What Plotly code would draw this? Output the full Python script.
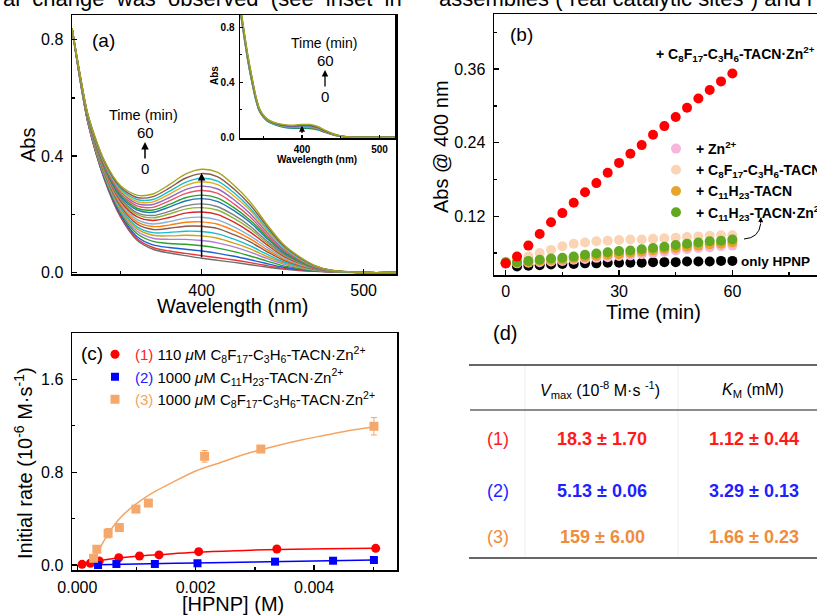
import plotly.graph_objects as go

W, H = 817, 616
FONT = "Arial, 'Liberation Sans', sans-serif"


def px(x):
    return x / W


def py(y):
    return 1 - y / H


# ---------------- Panel (a): spectra, 0-60 min ----------------
wavelength_a = [320, 325, 330, 340, 350, 360, 370, 380, 390, 400, 410, 420, 430, 440, 450, 460, 470, 480, 500, 520]
spectra_a = [
    [0.840, 0.660, 0.510, 0.320, 0.190, 0.112, 0.080, 0.067, 0.058, 0.049, 0.042, 0.035, 0.027, 0.019, 0.012, 0.007, 0.004, 0.002, 0.0, 0.0],
    [0.840, 0.661, 0.511, 0.322, 0.193, 0.117, 0.086, 0.074, 0.066, 0.058, 0.051, 0.043, 0.034, 0.024, 0.015, 0.009, 0.005, 0.002, 0.0, 0.0],
    [0.840, 0.662, 0.512, 0.325, 0.199, 0.124, 0.095, 0.086, 0.080, 0.074, 0.066, 0.056, 0.044, 0.031, 0.019, 0.011, 0.006, 0.003, 0.0, 0.0],
    [0.840, 0.663, 0.514, 0.329, 0.205, 0.134, 0.107, 0.100, 0.097, 0.092, 0.084, 0.072, 0.057, 0.040, 0.024, 0.014, 0.007, 0.003, 0.0, 0.0],
    [0.840, 0.664, 0.516, 0.333, 0.212, 0.143, 0.118, 0.114, 0.114, 0.110, 0.102, 0.088, 0.070, 0.049, 0.030, 0.017, 0.008, 0.003, 0.0, 0.0],
    [0.840, 0.665, 0.518, 0.336, 0.217, 0.151, 0.128, 0.126, 0.128, 0.126, 0.118, 0.101, 0.081, 0.056, 0.034, 0.019, 0.009, 0.004, 0.0, 0.0],
    [0.840, 0.666, 0.519, 0.340, 0.222, 0.158, 0.137, 0.138, 0.142, 0.141, 0.133, 0.115, 0.092, 0.064, 0.038, 0.022, 0.010, 0.004, 0.0, 0.0],
    [0.840, 0.667, 0.521, 0.343, 0.229, 0.167, 0.148, 0.152, 0.159, 0.159, 0.151, 0.130, 0.105, 0.073, 0.044, 0.025, 0.011, 0.004, 0.0, 0.0],
    [0.840, 0.668, 0.522, 0.347, 0.234, 0.175, 0.158, 0.163, 0.173, 0.174, 0.166, 0.144, 0.116, 0.080, 0.048, 0.027, 0.012, 0.005, 0.0, 0.0],
    [0.840, 0.669, 0.524, 0.350, 0.240, 0.183, 0.167, 0.175, 0.187, 0.190, 0.181, 0.157, 0.126, 0.088, 0.053, 0.030, 0.013, 0.005, 0.0, 0.0],
    [0.840, 0.670, 0.526, 0.354, 0.246, 0.192, 0.179, 0.189, 0.204, 0.208, 0.199, 0.173, 0.139, 0.097, 0.058, 0.033, 0.014, 0.005, 0.0, 0.0],
    [0.840, 0.671, 0.527, 0.357, 0.252, 0.200, 0.188, 0.201, 0.218, 0.223, 0.214, 0.186, 0.150, 0.104, 0.062, 0.035, 0.015, 0.005, 0.0, 0.0],
    [0.840, 0.672, 0.528, 0.360, 0.256, 0.206, 0.196, 0.210, 0.229, 0.236, 0.226, 0.197, 0.159, 0.110, 0.066, 0.037, 0.016, 0.006, 0.0, 0.0],
    [0.840, 0.673, 0.530, 0.364, 0.262, 0.215, 0.207, 0.225, 0.246, 0.254, 0.244, 0.213, 0.172, 0.119, 0.071, 0.040, 0.017, 0.006, 0.0, 0.0],
    [0.840, 0.674, 0.531, 0.366, 0.267, 0.221, 0.215, 0.234, 0.257, 0.266, 0.256, 0.223, 0.180, 0.125, 0.075, 0.042, 0.018, 0.006, 0.0, 0.0],
    [0.840, 0.675, 0.533, 0.369, 0.272, 0.229, 0.224, 0.246, 0.271, 0.282, 0.272, 0.236, 0.191, 0.132, 0.079, 0.044, 0.019, 0.007, 0.0, 0.0],
    [0.840, 0.676, 0.534, 0.373, 0.278, 0.237, 0.234, 0.257, 0.285, 0.297, 0.287, 0.250, 0.202, 0.140, 0.083, 0.047, 0.020, 0.007, 0.0, 0.0],
    [0.840, 0.677, 0.536, 0.376, 0.283, 0.244, 0.243, 0.269, 0.299, 0.312, 0.302, 0.263, 0.213, 0.147, 0.088, 0.049, 0.021, 0.007, 0.0, 0.0],
    [0.840, 0.678, 0.537, 0.379, 0.287, 0.251, 0.251, 0.279, 0.310, 0.324, 0.314, 0.274, 0.221, 0.153, 0.091, 0.051, 0.022, 0.007, 0.0, 0.0],
    [0.840, 0.679, 0.539, 0.382, 0.293, 0.258, 0.261, 0.290, 0.324, 0.340, 0.329, 0.287, 0.232, 0.161, 0.096, 0.054, 0.023, 0.008, 0.0, 0.0],
    [0.840, 0.680, 0.540, 0.385, 0.298, 0.266, 0.270, 0.302, 0.338, 0.355, 0.344, 0.300, 0.243, 0.168, 0.100, 0.056, 0.024, 0.008, 0.0, 0.0],
]
colors_a = ["#6e6e6e", "#e8383d", "#1f5fd6", "#2ca02c", "#b07cd8", "#d4a017", "#17becf", "#8c564b",
            "#ff7f0e", "#7fb3d5", "#d62728", "#8cb43c", "#7f7f7f", "#1f77b4", "#2ca02c", "#e3566c",
            "#9467bd", "#e0b020", "#17becf", "#8c564b", "#a5a51f"]

# ---------------- Inset of (a) ----------------
wavelength_in = [320, 325, 330, 335, 340, 345, 350, 355, 360, 370, 380, 390, 400, 410, 420, 430, 440, 450, 460, 480, 520]
spectra_in = [
    [0.930, 0.740, 0.560, 0.410, 0.280, 0.190, 0.148, 0.120, 0.103, 0.082, 0.070, 0.066, 0.066, 0.064, 0.055, 0.036, 0.018, 0.006, 0.001, 0.0, 0.0],
    [0.937, 0.747, 0.567, 0.417, 0.285, 0.193, 0.150, 0.122, 0.105, 0.085, 0.073, 0.070, 0.070, 0.069, 0.059, 0.038, 0.019, 0.007, 0.001, 0.0, 0.0],
    [0.943, 0.753, 0.573, 0.423, 0.290, 0.197, 0.153, 0.125, 0.108, 0.087, 0.076, 0.073, 0.075, 0.073, 0.062, 0.041, 0.021, 0.007, 0.002, 0.0, 0.0],
    [0.950, 0.760, 0.580, 0.430, 0.295, 0.200, 0.155, 0.127, 0.110, 0.090, 0.080, 0.077, 0.080, 0.079, 0.067, 0.043, 0.022, 0.008, 0.002, 0.0, 0.0],
    [0.957, 0.767, 0.587, 0.437, 0.300, 0.203, 0.157, 0.129, 0.112, 0.093, 0.083, 0.081, 0.084, 0.084, 0.071, 0.045, 0.023, 0.009, 0.002, 0.0, 0.0],
    [0.963, 0.773, 0.593, 0.443, 0.305, 0.207, 0.160, 0.132, 0.115, 0.095, 0.086, 0.084, 0.089, 0.088, 0.075, 0.048, 0.025, 0.009, 0.003, 0.0, 0.0],
    [0.970, 0.780, 0.600, 0.450, 0.310, 0.210, 0.162, 0.134, 0.117, 0.098, 0.089, 0.088, 0.093, 0.093, 0.079, 0.050, 0.026, 0.010, 0.003, 0.0, 0.0],
]
colors_in = ["#1f77b4", "#2ca02c", "#ff7f0e", "#17becf", "#9467bd", "#555555", "#a5a51f"]

# ---------------- Panel (b): Abs @ 400 nm vs time ----------------
time_b = [0, 3, 6, 9, 12, 15, 18, 21, 24, 27, 30, 33, 36, 39, 42, 45, 48, 51, 54, 57, 60]
abs_hpnp_only = [0.043, 0.038, 0.039, 0.040, 0.041, 0.042, 0.042, 0.043, 0.043, 0.044, 0.044, 0.044, 0.044, 0.045, 0.045, 0.045, 0.046, 0.046, 0.046, 0.047, 0.047]
abs_zn = [0.043, 0.043, 0.044, 0.045, 0.046, 0.047, 0.049, 0.050, 0.052, 0.053, 0.055, 0.056, 0.058, 0.060, 0.062, 0.064, 0.066, 0.068, 0.069, 0.071, 0.072]
abs_c8_tacn = [0.045, 0.051, 0.054, 0.060, 0.065, 0.071, 0.075, 0.077, 0.079, 0.080, 0.081, 0.082, 0.082, 0.083, 0.084, 0.085, 0.086, 0.087, 0.088, 0.089, 0.089]
abs_c11_tacn = [0.044, 0.044, 0.045, 0.047, 0.048, 0.049, 0.051, 0.053, 0.055, 0.057, 0.058, 0.060, 0.062, 0.064, 0.066, 0.068, 0.070, 0.072, 0.074, 0.075, 0.077]
abs_c11_tacn_zn = [0.045, 0.045, 0.047, 0.049, 0.051, 0.052, 0.054, 0.057, 0.059, 0.061, 0.063, 0.064, 0.066, 0.068, 0.070, 0.073, 0.075, 0.077, 0.079, 0.080, 0.082]
abs_c8_tacn_zn = [0.043, 0.054, 0.072, 0.091, 0.110, 0.125, 0.142, 0.159, 0.174, 0.191, 0.207, 0.222, 0.236, 0.253, 0.267, 0.282, 0.297, 0.312, 0.326, 0.340, 0.353]

# ---------------- Panel (c): initial rate vs [HPNP] ----------------
hpnp_1 = [0.00008, 0.00022, 0.00037, 0.00070, 0.00105, 0.00138, 0.00205, 0.00337, 0.00504]
rate_1 = [0.006, 0.015, 0.035, 0.063, 0.078, 0.087, 0.115, 0.138, 0.144]
hpnp_2 = [0.00035, 0.00066, 0.00131, 0.00203, 0.00334, 0.00432, 0.00501]
rate_2 = [0.000, 0.009, 0.009, 0.015, 0.029, 0.037, 0.043]
hpnp_3 = [0.000275, 0.00033, 0.00052, 0.00071, 0.00099, 0.00120, 0.00215, 0.00310, 0.00501]
rate_3 = [0.058, 0.136, 0.274, 0.323, 0.482, 0.534, 0.937, 1.000, 1.196]
err_3 = [0.02, 0.03, 0.04, 0.03, 0.03, 0.02, 0.05, 0.02, 0.075]

fit_x_1 = [0.0001, 0.0002, 0.0003, 0.0005, 0.0007, 0.001, 0.0014, 0.002, 0.0027, 0.0034, 0.0042, 0.005]
fit_y_1 = [0.008, 0.020, 0.030, 0.047, 0.060, 0.076, 0.090, 0.110, 0.124, 0.134, 0.140, 0.145]
fit_x_2 = [0.00035, 0.001, 0.002, 0.003, 0.004, 0.005]
fit_y_2 = [0.003, 0.009, 0.017, 0.026, 0.035, 0.043]
fit_x_3 = [0.00025, 0.00033, 0.00044, 0.00056, 0.00073, 0.001, 0.0013, 0.0016, 0.002, 0.0024, 0.0028, 0.0033, 0.0038, 0.0042, 0.0046, 0.005]
fit_y_3 = [0.015, 0.10, 0.20, 0.30, 0.41, 0.53, 0.63, 0.71, 0.81, 0.88, 0.95, 1.02, 1.08, 1.12, 1.16, 1.19]

# ---------------- Panel (d): table ----------------
row_labels = ["(1)", "(2)", "(3)"]
vmax_text = ["18.3 ± 1.70", "5.13 ± 0.06", "159 ± 6.00"]
km_text = ["1.12 ± 0.44", "3.29 ± 0.13", "1.66 ± 0.23"]
row_colors = ["#ff1a1a", "#1f1fff", "#f08c3c"]

# ============================================================
fig = go.Figure()

for ys, c in zip(spectra_a, colors_a):
    fig.add_trace(go.Scatter(x=wavelength_a, y=ys, mode="lines", xaxis="x", yaxis="y",
                             line=dict(color=c, width=1.4, shape="spline", smoothing=0.8),
                             showlegend=False, hoverinfo="skip"))

for ys, c in zip(spectra_in, colors_in):
    fig.add_trace(go.Scatter(x=wavelength_in, y=ys, mode="lines", xaxis="x2", yaxis="y2",
                             line=dict(color=c, width=1.5, shape="spline", smoothing=0.8),
                             showlegend=False, hoverinfo="skip"))

b_series = [
    (abs_hpnp_only, "#000000", "only HPNP", False),
    (abs_zn, "#f7b7dc", "<b>+ Zn<sup>2+</sup></b>", True),
    (abs_c8_tacn, "#fad4b4", "<b>+ C<sub>8</sub>F<sub>17</sub>-C<sub>3</sub>H<sub>6</sub>-TACN</b>", True),
    (abs_c11_tacn, "#e6a52c", "<b>+ C<sub>11</sub>H<sub>23</sub>-TACN</b>", True),
    (abs_c11_tacn_zn, "#62a820", "<b>+ C<sub>11</sub>H<sub>23</sub>-TACN·Zn<sup>2+</sup></b>", True),
    (abs_c8_tacn_zn, "#ff0000", "C8F17-C3H6-TACN·Zn2+", False),
]
for ys, c, name, leg in b_series:
    fig.add_trace(go.Scatter(x=time_b, y=ys, mode="markers", xaxis="x3", yaxis="y3",
                             marker=dict(color=c, size=10, line=dict(width=0)),
                             name=name, showlegend=leg, legend="legend"))

# panel (c) fits
fig.add_trace(go.Scatter(x=fit_x_1, y=fit_y_1, mode="lines", xaxis="x4", yaxis="y4",
                         line=dict(color="#ff0000", width=1.5, shape="spline"), showlegend=False))
fig.add_trace(go.Scatter(x=fit_x_2, y=fit_y_2, mode="lines", xaxis="x4", yaxis="y4",
                         line=dict(color="#0000ff", width=1.5, shape="spline"), showlegend=False))
fig.add_trace(go.Scatter(x=fit_x_3, y=fit_y_3, mode="lines", xaxis="x4", yaxis="y4",
                         line=dict(color="#f5a462", width=1.5, shape="spline"), showlegend=False))
# panel (c) data
fig.add_trace(go.Scatter(x=hpnp_1, y=rate_1, mode="markers", xaxis="x4", yaxis="y4",
                         marker=dict(color="#ff0000", size=9, symbol="circle"), legend="legend2",
                         name="<span style='color:#ff2020'>(1)</span> 110 <i>μ</i>M C<sub>8</sub>F<sub>17</sub>-C<sub>3</sub>H<sub>6</sub>-TACN·Zn<sup>2+</sup>"))
fig.add_trace(go.Scatter(x=hpnp_2, y=rate_2, mode="markers", xaxis="x4", yaxis="y4",
                         marker=dict(color="#0000ff", size=8, symbol="square"), legend="legend2",
                         name="<span style='color:#2020ff'>(2)</span> 1000 <i>μ</i>M C<sub>11</sub>H<sub>23</sub>-TACN·Zn<sup>2+</sup>"))
fig.add_trace(go.Scatter(x=hpnp_3, y=rate_3, mode="markers", xaxis="x4", yaxis="y4",
                         error_y=dict(type="data", array=err_3, color="#f5a462", thickness=1, width=3),
                         marker=dict(color="#f5a86b", size=9, symbol="square"), legend="legend2",
                         name="<span style='color:#f5a462'>(3)</span> 1000 <i>μ</i>M C<sub>8</sub>F<sub>17</sub>-C<sub>3</sub>H<sub>6</sub>-TACN·Zn<sup>2+</sup>"))


def axis(domain, rng, anchor, dtick, minor_dtick, fmt=None, size=16, bold=False, ticklen=5, mirror=True, standoff=4):
    d = dict(domain=domain, range=rng, anchor=anchor, showline=True, linecolor="black", linewidth=1.5,
             mirror=mirror, ticks="inside", ticklen=ticklen, tickwidth=1.3, tickcolor="black",
             showgrid=False, zeroline=False, tickmode="linear", tick0=0, dtick=dtick, automargin=False,
             tickfont=dict(family=FONT, size=size, color="black", weight="bold" if bold else "normal"),
             minor=dict(ticks="inside", ticklen=max(2, ticklen - 2), tickwidth=1.2, tickcolor="black",
                        dtick=minor_dtick, tick0=0, showgrid=False),
             ticklabelstandoff=standoff)
    if fmt:
        d["tickformat"] = fmt
    return d


fig.update_layout(
    width=W, height=H, margin=dict(l=0, r=0, t=0, b=0, pad=0, autoexpand=False),
    paper_bgcolor="white", plot_bgcolor="rgba(0,0,0,0)",
    font=dict(family=FONT, color="black"),
    xaxis=axis([px(72), px(396)], [320, 520], "y", 100, 50, standoff=1),
    yaxis=axis([py(274), py(15)], [-0.005, 0.885], "x", 0.4, 0.2, ".1f"),
    xaxis2=axis([px(240), px(395)], [320, 520], "y2", 100, 50, size=10, bold=True, ticklen=3, standoff=1),
    yaxis2=axis([py(138), py(15)], [-0.005, 0.89], "x2", 0.4, 0.2, ".1f", size=10, bold=True, ticklen=3, standoff=2),
    xaxis3=axis([px(494), 1.0], [-3.1, 82.4], "y3", 30, 15, standoff=1),
    yaxis3=axis([py(275), py(14)], [0.024, 0.45], "x3", 0.12, 0.06, ".2f", mirror=False),
    xaxis4=axis([px(72), px(397)], [-0.00009, 0.0054], "y4", 0.002, 0.001, ".3f", standoff=2),
    yaxis4=axis([py(570), py(333)], [-0.043, 2.0], "x4", 0.8, 0.4, ".1f"),
    legend=dict(x=px(656), y=py(133), xanchor="left", yanchor="top", bgcolor="rgba(0,0,0,0)",
                font=dict(family=FONT, size=14, color="black"), itemsizing="trace", tracegroupgap=0),
    legend2=dict(x=px(95), y=py(338), xanchor="left", yanchor="top", bgcolor="rgba(0,0,0,0)",
                 font=dict(family=FONT, size=15, color="black"), itemsizing="trace", tracegroupgap=0),
)

ann = []


def text(x, y, t, size, bold=False, color="black", angle=0, xanchor="center", yanchor="middle"):
    ann.append(dict(x=px(x), y=py(y), xref="paper", yref="paper", text=t, showarrow=False,
                    textangle=angle, xanchor=xanchor, yanchor=yanchor,
                    font=dict(family=FONT, size=size, color=color, weight="bold" if bold else "normal")))


def arrow_up(x, y_head, length, width=1.5):
    ann.append(dict(x=px(x), y=py(y_head), xref="paper", yref="paper", text="", showarrow=True,
                    ax=0, ay=length, arrowhead=2, arrowsize=1, arrowwidth=width, arrowcolor="black"))


# clipped running text at the very top
text(1, -1, "al&nbsp; change&nbsp; was&nbsp; observed&nbsp; (see&nbsp; inset&nbsp; in", 22, xanchor="left")
text(437, -1, "assemblies (“real catalytic sites”) and i", 22, xanchor="left")

# panel (a)
text(103, 40, "(a)", 19)
text(28, 145, "Abs", 20, angle=-90)
text(233, 306, "Wavelength (nm)", 20)
text(143, 115, "Time (min)", 14.5)
text(145, 132, "60", 15)
arrow_up(145, 142, 18)
text(145, 168, "0", 15)
ann.append(dict(x=400, y=0.342, xref="x", yref="y", ax=400, ay=0.047, axref="x", ayref="y",
                text="", showarrow=True, arrowhead=2, arrowsize=1, arrowwidth=1.5, arrowcolor="black"))
# inset
text(215, 76, "Abs", 10, bold=True, angle=-90)
text(317, 159, "Wavelength (nm)", 10, bold=True)
text(324, 43, "Time (min)", 14)
text(325, 61, "60", 15)
arrow_up(325, 70, 18, width=1.3)
text(325, 96, "0", 15)
ann.append(dict(x=400, y=0.085, xref="x2", yref="y2", ax=400, ay=0.02, axref="x2", ayref="y2",
                text="", showarrow=True, arrowhead=2, arrowsize=1, arrowwidth=1.2, arrowcolor="black"))

# panel (b)
text(521, 35, "(b)", 19)
text(441, 147, "Abs @ 400 nm", 20, angle=-90)
text(653, 312, "Time (min)", 20)
text(735, 54, "+ C<sub>8</sub>F<sub>17</sub>-C<sub>3</sub>H<sub>6</sub>-TACN·Zn<sup>2+</sup>", 14, bold=True)
text(739, 261, "only HPNP", 13.5, bold=True, xanchor="left")
ann.append(dict(x=px(761), y=py(217), xref="paper", yref="paper", text="", showarrow=True,
                ax=-0.5, ay=8, arrowhead=2, arrowsize=1, arrowwidth=1, arrowcolor="black"))

# panel (c)
text(92, 353, "(c)", 19)
text(23, 463, "Initial rate (10<sup>-6</sup> M·s<sup>-1</sup>)", 20, angle=-90)
text(233, 604, "[HPNP] (M)", 20)

# panel (d)
text(505, 333, "(d)", 20)
text(600, 390, "<i>V</i><sub>max</sub> (10<sup>-8</sup> M·s <sup>-1</sup>)", 16)
text(753, 390, "<i>K</i><sub>M</sub> (mM)", 16)
row_y = [439, 491, 537]
for lab, v, k, c, yy in zip(row_labels, vmax_text, km_text, row_colors, row_y):
    text(498, yy, lab, 18, color=c)
    text(602, yy, v, 18, bold=True, color=c)
    text(754, yy, k, 18, bold=True, color=c)

shapes = [
    dict(type="line", xref="paper", yref="paper", x0=px(525), x1=px(525), y0=py(365), y1=py(558),
         line=dict(color="#eeeeee", width=1)),
    dict(type="line", xref="paper", yref="paper", x0=px(678), x1=px(678), y0=py(365), y1=py(558),
         line=dict(color="#eeeeee", width=1)),
    dict(type="line", xref="paper", yref="paper", x0=px(469), x1=1.0, y0=py(365), y1=py(365),
         line=dict(color="#666666", width=2)),
    dict(type="line", xref="paper", yref="paper", x0=px(470), x1=1.0, y0=py(410), y1=py(410),
         line=dict(color="#666666", width=1.5)),
    dict(type="line", xref="paper", yref="paper", x0=px(469), x1=1.0, y0=py(558), y1=py(558),
         line=dict(color="#666666", width=2)),
    dict(type="path", xref="paper", yref="paper",
         path=f"M {px(744)},{py(239)} Q {px(759)},{py(238)} {px(760.6)},{py(224)}",
         line=dict(color="black", width=1)),
]

fig.update_layout(annotations=ann, shapes=shapes)
fig.write_html("out.html", config={"displayModeBar": False, "staticPlot": True},
               post_script="document.body.style.margin='0';document.body.style.padding='0';")
